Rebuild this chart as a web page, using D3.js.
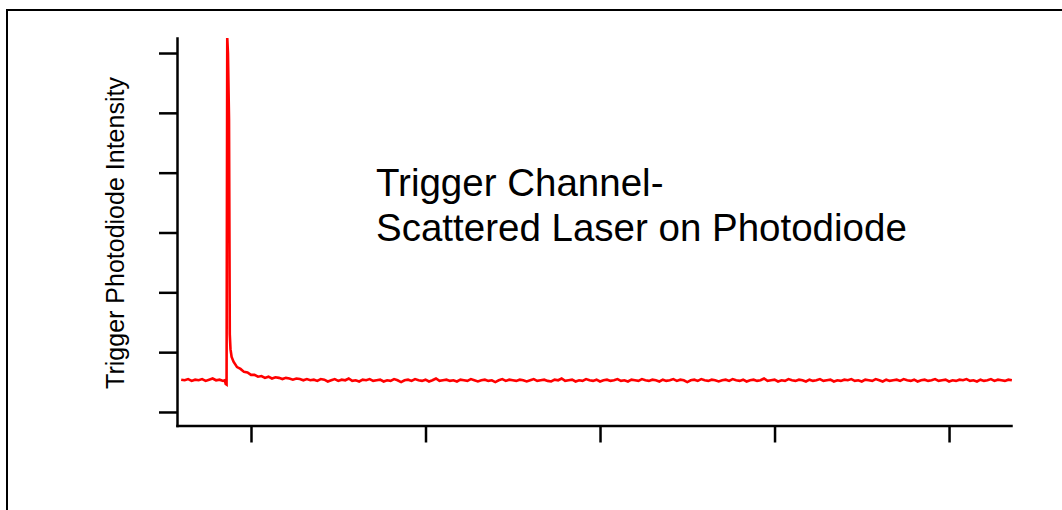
<!DOCTYPE html>
<html>
<head>
<meta charset="utf-8">
<script src="https://cdn.jsdelivr.net/npm/d3@7"></script>
<style>
  html, body { margin: 0; padding: 0; background: #fff; }
  svg { display: block; }
  text { font-family: "Liberation Sans", Arial, sans-serif; fill: #000; }
</style>
</head>
<body>
<svg id="chart" width="1062" height="510"></svg>
<script>
// ---- Data (time in µs, intensity in arbitrary units) ----
const xTicks = [0, 10, 20, 30, 40];
const yTicks = [0, 1, 2, 3, 4, 5, 6];

// pre-trigger baseline (uniform sampling)
const preStart = -4.0, preStep = 0.2;
const preValues = [0.54,0.53,0.55,0.52,0.54,0.53,0.55,0.52,0.54,0.56,0.53,0.54,0.52];

// laser spike
const spikeTimes  = [-1.50,-1.45,-1.40,-1.36,-1.32,-1.26,-1.23,-1.215,-1.175,-1.11];
const spikeValues = [0.53, 0.47, 0.46, 6.25, 6.00, 4.90, 2.50, 1.30,  1.05,  0.92];

// decay tail + baseline (uniform sampling)
const tailStart = -1.0, tailStep = 0.2;
const tailValues = [
  0.84,0.75,0.72,0.67,0.66,0.62,0.62,0.59,0.60,0.57,0.59,0.56,0.58,0.57,0.55,0.57,0.56,0.54,0.56,0.55,0.53,
  0.55,0.53,0.54,0.52,0.55,0.54,0.51,0.53,0.55,0.52,0.54,0.53,0.56,0.52,0.53,0.51,0.54,0.53,0.55,0.52,
  0.53,0.54,0.51,0.53,0.52,0.55,0.53,0.50,0.53,0.54,0.52,0.55,0.53,0.52,0.54,0.51,0.53,0.56,0.52,0.53,
  0.54,0.52,0.53,0.51,0.54,0.53,0.52,0.55,0.53,0.51,0.53,0.54,0.52,0.53,0.50,0.53,0.55,0.52,0.54,0.53,
  0.52,0.54,0.53,0.51,0.53,0.55,0.52,0.53,0.54,0.52,0.51,0.54,0.53,0.56,0.52,0.53,0.54,0.51,0.53,0.52,
  0.55,0.53,0.52,0.54,0.51,0.53,0.54,0.52,0.53,0.55,0.52,0.53,0.51,0.54,0.53,0.52,0.55,0.53,0.52,0.54,
  0.53,0.51,0.54,0.52,0.53,0.55,0.52,0.54,0.53,0.50,0.53,0.54,0.52,0.55,0.53,0.52,0.54,0.53,0.51,0.53,
  0.54,0.52,0.55,0.53,0.52,0.54,0.51,0.53,0.54,0.52,0.53,0.56,0.52,0.53,0.54,0.51,0.53,0.52,0.55,0.53,
  0.52,0.54,0.53,0.51,0.54,0.52,0.53,0.55,0.52,0.53,0.54,0.51,0.53,0.52,0.54,0.53,0.55,0.52,0.53,0.51,
  0.54,0.53,0.52,0.55,0.53,0.51,0.54,0.52,0.53,0.54,0.52,0.55,0.53,0.52,0.54,0.51,0.53,0.54,0.52,0.53,
  0.55,0.52,0.53,0.54,0.51,0.53,0.52,0.54,0.53,0.55,0.52,0.53,0.51,0.54,0.52,0.53,0.55,0.52,0.54,0.53,
  0.52,0.54,0.53
];

const yLabel = "Trigger Photodiode Intensity";
const titleLines = ["Trigger Channel-", "Scattered Laser on Photodiode"];

// ---- Build series ----
const series = [];
preValues.forEach((v, i) => series.push({ t: preStart + i * preStep, v }));
spikeTimes.forEach((t, i) => series.push({ t, v: spikeValues[i] }));
tailValues.forEach((v, i) => series.push({ t: tailStart + i * tailStep, v }));

// ---- Drawing ----
const svg = d3.select("#chart");
svg.append("rect").attr("width", 1062).attr("height", 510).attr("fill", "#fff");

// outer frame (extends past the window on right/bottom)
svg.append("rect")
  .attr("x", 7).attr("y", 10).attr("width", 1200).attr("height", 600)
  .attr("fill", "none").attr("stroke", "#000").attr("stroke-width", 2);

const x = d3.scaleLinear().domain([-4.24, 43.55]).range([177, 1011]);
const y = d3.scaleLinear().domain([-0.226, 6.251]).range([425.5, 38]);

const xAxis = d3.axisBottom(x).tickValues(xTicks).tickFormat("").tickSizeInner(17).tickSizeOuter(0);
const yAxis = d3.axisLeft(y).tickValues(yTicks).tickFormat("").tickSizeInner(18).tickSizeOuter(0);

const gx = svg.append("g").attr("transform", "translate(0,425.5)").call(xAxis);
const gy = svg.append("g").attr("transform", "translate(177,0)").call(yAxis);
[gx, gy].forEach(g => {
  g.selectAll("path.domain").attr("stroke", "#000").attr("stroke-width", 2.5).attr("stroke-linecap", "square");
  g.selectAll(".tick line").attr("stroke", "#000").attr("stroke-width", 2.5);
});

const line = d3.line().x(d => x(d.t)).y(d => y(d.v));
svg.append("path")
  .datum(series)
  .attr("d", line)
  .attr("fill", "none")
  .attr("stroke", "#ff0000")
  .attr("stroke-width", 2.6)
  .attr("stroke-linejoin", "miter");

// y label
svg.append("text")
  .attr("transform", "translate(124,233) rotate(-90)")
  .attr("text-anchor", "middle")
  .attr("font-size", 25)
  .text(yLabel);

// annotation
svg.append("text")
  .attr("font-size", 38.5)
  .selectAll("tspan")
  .data(titleLines)
  .join("tspan")
  .attr("x", 376)
  .attr("y", (d, i) => 196 + i * 44.5)
  .text(d => d);
</script>
</body>
</html>
